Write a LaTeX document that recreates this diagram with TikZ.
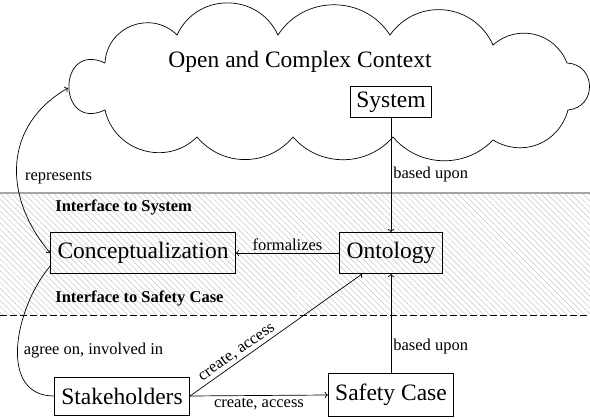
\documentclass[tikz,border=0pt]{standalone}
\usepackage{fontspec}
\setmainfont{Liberation Serif}
\usetikzlibrary{patterns.meta,arrows.meta}
\begin{document}
\begin{tikzpicture}[x=1pt,y=-1pt,
  line width=0.7pt,
  bigfont/.style={font=\fontsize{23.5}{28}\selectfont},
  smallfont/.style={font=\fontsize{16.5}{20}\selectfont},
  boldlbl/.style={font=\fontsize{16.5}{20}\selectfont\bfseries, anchor=west, inner sep=0pt},
  box/.style={draw, bigfont, inner xsep=7pt, inner ysep=0pt, minimum height=41pt},
  lbl/.style={smallfont, inner sep=2pt},
  arr/.style={->},
  puff/.style 2 args={bend left=#1, looseness=#2},
]
\useasboundingbox (0,0) rectangle (590,419);
% band
\fill[pattern={Lines[angle=135,distance=4.2pt,line width=0.5pt]}, pattern color=gray!45]
  (0,193) rectangle (590,315);
\coordinate (bandTL) at (0,193);
\coordinate (bandTR) at (590,193);
\coordinate (bandBL) at (0,315);
\coordinate (bandBR) at (590,315);
\draw[gray!70, line width=1.2pt] (bandTL) -- (bandTR);
\draw[dashed, dash pattern=on 7pt off 3pt] (bandBL) -- (bandBR);
% cloud
\draw (105,110) to[puff={115}{2.9}] (105,63)
  to[puff={66}{1.21}] (177,35)
  to[puff={65}{1.2}] (278,35)
  to[puff={57}{1.1}] (390,35)
  to[puff={60}{1.15}] (493,45)
  to[puff={55}{1.1}] (567,63)
  to[puff={86}{1.6}] (568,110)
  to[puff={53}{1.1}] (493,140)
  to[puff={48}{1.02}] (393,137)
  to[puff={49}{1.03}] (293,137)
  to[puff={50}{1.05}] (197,137)
  to[puff={61}{1.14}] cycle;
\coordinate (cloudW) at (68,88);
\node[bigfont, inner sep=0pt] (title) at (300,62) {Open and Complex Context};
\node[box, minimum height=31pt, inner xsep=6pt] (sys) at (391,102) {System};
% nodes
\node[box] (conc) at (143,253) {Conceptualization};
\node[box] (onto) at (391,253) {Ontology};
\node[box, minimum height=38pt] (stake) at (122,396) {Stakeholders};
\node[box, minimum height=43pt] (safe) at (391,395) {Safety Case};
\node[boldlbl] (ifs) at (55,207) {Interface to System};
\node[boldlbl] (ifc) at (55,298) {Interface to Safety Case};
% edges
\draw[arr] (sys.south) -- node[lbl, right, pos=0.5] {based upon} (onto.north);
\draw[arr] (onto.west) -- node[lbl, above] {formalizes} (conc.east);
\draw[arr] (safe.north) -- node[lbl, right, pos=0.27] {based upon} (onto.south);
\draw[arr] (stake.east) -- node[lbl, below] {create, access} (safe.west);
\draw[arr] (stake.east) -- node[lbl, above, sloped, pos=0.3] {create, access} (onto.-144);
\draw[<->] (conc.west) to[out=130, in=210, looseness=1.15] node[lbl, pos=0.42, anchor=west, xshift=6pt] {represents} (cloudW);
\draw (stake.west) to[out=180, in=230, looseness=1.1] node[lbl, pos=0.48, anchor=west, xshift=4pt] {agree on, involved in} (conc.188);
\end{tikzpicture}
\end{document}
